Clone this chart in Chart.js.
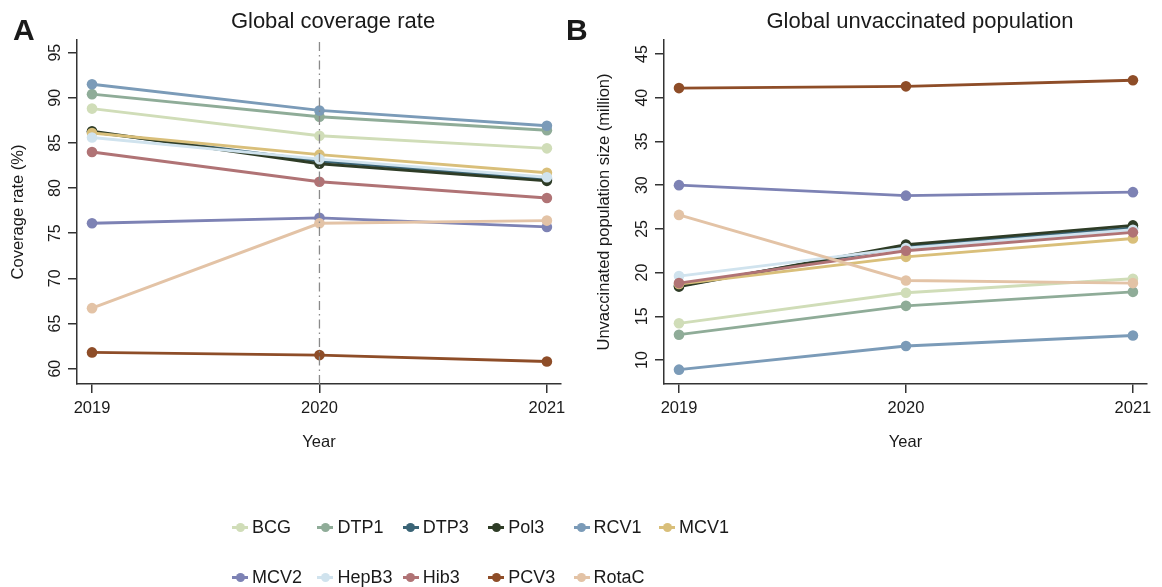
<!DOCTYPE html>
<html><head><meta charset="utf-8">
<script src="https://cdn.jsdelivr.net/npm/chart.js@4.4.0/dist/chart.umd.min.js"></script>
<style>
html,body{margin:0;padding:0;background:#fff;width:1162px;height:587px;overflow:hidden;font-family:"Liberation Sans",Arial,sans-serif;color:#1a1a1a;}
#wa{position:absolute;left:0;top:0;width:664px;height:470px;}
#wb{position:absolute;left:580px;top:0;width:680px;height:470px;}
.letter{position:absolute;font-weight:bold;font-size:30px;line-height:30px;}
#legend{position:absolute;left:0;top:0;width:1162px;height:587px;pointer-events:none;}
.item{position:absolute;height:20px;font-size:18px;line-height:20px;white-space:nowrap;}
.mk{position:absolute;left:-20px;top:8.5px;width:16px;height:3px;}
.dot{position:absolute;left:-16.5px;top:5.5px;width:9px;height:9px;border-radius:50%;}
</style>
</head><body>
<div id="wa"><canvas id="ca"></canvas></div>
<div id="wb"><canvas id="cb"></canvas></div>
<div class="letter" style="left:13px;top:15px;">A</div>
<div class="letter" style="left:566px;top:15px;">B</div>
<div id="legend"></div>
<script>
// ---- data ----
const years = [2019, 2020, 2021];
const vaccines = ['BCG','DTP1','DTP3','Pol3','RCV1','MCV1','MCV2','HepB3','Hib3','PCV3','RotaC'];
const colors = ['#d0ddb8','#8fac98','#3a6476','#2e3c26','#7b9bb8','#d9bf7a','#7d82b4','#d0e3ee','#b07375','#8e4d28','#e3c3a6'];
// Global coverage rate (%)
const coverage2019 = [88.8, 90.4, 86.2, 86.3, 91.5, 86.1, 76.1, 85.6, 84.0, 61.8, 66.7];
const coverage2020 = [85.8, 87.9, 83.0, 82.7, 88.6, 83.7, 76.7, 83.2, 80.7, 61.5, 76.1];
const coverage2021 = [84.4, 86.4, 81.0, 80.8, 86.9, 81.7, 75.7, 81.2, 78.9, 60.8, 76.4];
// Global unvaccinated population (million)
const unvacc2019 = [14.2, 12.9, 18.5, 18.4, 8.9, 18.7, 30.0, 19.6, 18.8, 41.1, 26.6];
const unvacc2020 = [17.7, 16.2, 23.0, 23.2, 11.6, 21.8, 28.8, 22.8, 22.5, 41.3, 19.1];
const unvacc2021 = [19.3, 17.8, 25.1, 25.4, 12.8, 23.9, 29.2, 24.9, 24.6, 42.0, 18.8];
const yTicksA = [60, 65, 70, 75, 80, 85, 90, 95];
const yTicksB = [10, 15, 20, 25, 30, 35, 40, 45];
const covidYear = 2020;

const FONT = '"Liberation Sans", Arial, sans-serif';
const TXT = '#1a1a1a';

function makeSets(a, b, c) {
  return vaccines.map((v, i) => ({
    label: v,
    data: years.map((y, j) => ({x: y, y: [a, b, c][j][i]})),
    borderColor: colors[i], backgroundColor: colors[i],
    pointBackgroundColor: colors[i], pointBorderColor: colors[i],
    borderWidth: 2.9, pointRadius: 5.3, pointBorderWidth: 0,
    order: vaccines.length - i + 1, tension: 0
  }));
}

const rotTicks = {
  id: 'rotTicks',
  afterDraw(chart, args, opts) {
    const s = chart.scales.y, ctx = chart.ctx;
    ctx.save();
    ctx.fillStyle = TXT; ctx.font = '16px ' + FONT;
    ctx.textAlign = 'center'; ctx.textBaseline = 'middle';
    s.ticks.forEach(t => {
      const y = s.getPixelForValue(t.value);
      ctx.save(); ctx.translate(s.right - 22, y); ctx.rotate(-Math.PI / 2);
      ctx.fillText(String(t.value), 0, 1); ctx.restore();
    });
    // panel title
    ctx.font = '22px ' + FONT;
    ctx.fillText(opts.text, opts.cx, 22);
    ctx.restore();
  }
};

function makeChart(id, title, titleX, yTitle, sets, yMin, yMax, yTicks, yAxisW, padRight, yTitlePad) {
  return new Chart(document.getElementById(id), {
    type: 'line',
    data: {datasets: sets},
    options: {
      responsive: true, maintainAspectRatio: false, animation: false,
      layout: {padding: {left: 0, right: padRight, top: 40, bottom: 0}},
      plugins: {
        legend: {display: false}, tooltip: {enabled: false}, title: {display: false},
        rotTicks: {text: title, cx: titleX}
      },
      scales: {
        x: {
          type: 'linear', min: 2018.934, max: 2021.062,
          afterBuildTicks: s => { s.ticks = years.map(v => ({value: v})); },
          afterFit: s => { s.height = 86; s.paddingLeft = 0; s.paddingRight = 0; },
          grid: {display: true, drawOnChartArea: false, drawTicks: true, tickLength: 9, tickColor: '#333', lineWidth: 1.5},
          border: {display: true, color: '#333', width: 1.5},
          ticks: {color: TXT, font: {family: FONT, size: 16.5}, padding: 6, maxRotation: 0, callback: v => String(v)},
          title: {display: true, text: 'Year', color: TXT, font: {family: FONT, size: 16.5}, padding: {top: 0, bottom: 18}}
        },
        y: {
          min: yMin, max: yMax,
          afterBuildTicks: s => { s.ticks = yTicks.map(v => ({value: v})); },
          afterFit: s => { s.width = yAxisW; s.paddingTop = 0; s.paddingBottom = 0; },
          grid: {display: true, drawOnChartArea: false, drawTicks: true, tickLength: 9, tickColor: '#333', lineWidth: 1.5},
          border: {display: true, color: '#333', width: 1.5},
          ticks: {display: false},
          title: {display: true, text: yTitle, color: TXT, font: {family: FONT, size: 16.5}, padding: {top: yTitlePad, bottom: 0}}
        }
      }
    },
    plugins: [rotTicks]
  });
}

const setsA = makeSets(coverage2019, coverage2020, coverage2021);
setsA.push({
  label: 'covid', data: [{x: covidYear, y: 58.3}, {x: covidYear, y: 96.4}],
  borderColor: '#8a8a8a', borderWidth: 1.3, borderDash: [9, 4, 1.5, 4], pointRadius: 0, order: 0
});
makeChart('ca', 'Global coverage rate', 333, 'Coverage rate (%)', setsA, 58.3, 96.4, yTicksA, 77, 103, 9);
makeChart('cb', 'Global unvaccinated population', 340, 'Unvaccinated population size (million)',
  makeSets(unvacc2019, unvacc2020, unvacc2021), 7.26, 46.6, yTicksB, 84, 113, 15);

// ---- legend ----
const lg = document.getElementById('legend');
vaccines.forEach((v, i) => {
  const row = Math.floor(i / 6), col = i % 6;
  const d = document.createElement('div');
  d.className = 'item';
  d.style.left = (252 + col * 85.4) + 'px';
  d.style.top = (517 + row * 50) + 'px';
  d.innerHTML = '<span class="mk" style="background:' + colors[i] + '"></span><span class="dot" style="background:' + colors[i] + '"></span>' + v;
  lg.appendChild(d);
});
</script>
</body></html>
